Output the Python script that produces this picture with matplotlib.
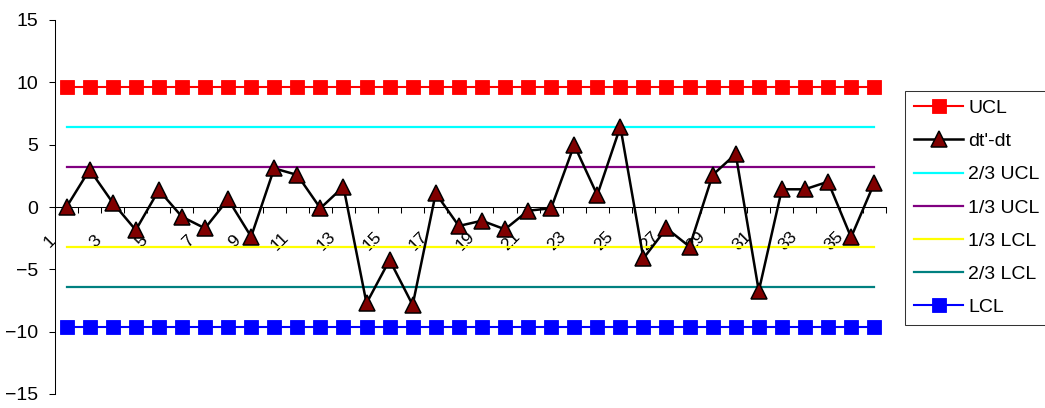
import numpy as np
import matplotlib.pyplot as plt
from matplotlib.transforms import ScaledTranslation

plt.rcParams['font.family'] = ['Liberation Sans', 'DejaVu Sans']

# sample number and dt'-dt values
samples = np.arange(1, 37)
dt_diff = [0.0, 3.0, 0.35, -1.85, 1.36, -0.78, -1.71, 0.62, -2.38, 3.1,
           2.57, -0.1, 1.63, -7.72, -4.25, -7.86, 1.1, -1.52, -1.1, -1.79,
           -0.3, -0.1, 4.97, 0.96, 6.44, -4.12, -1.71, -3.18, 2.57, 4.25,
           -6.74, 1.42, 1.42, 2.03, -2.43, 1.9]

# control limits
ucl = 9.63
ucl_23 = 6.42
ucl_13 = 3.21
lcl_13 = -3.21
lcl_23 = -6.42
lcl = -9.63

tick_labels = [str(s) if s % 2 == 1 else '' for s in samples]

fig = plt.figure(figsize=(10.45, 4.08), dpi=100)
ax = fig.add_axes([55 / 1045, 14 / 408, 830.7 / 1045, 374 / 408])

n = len(samples)
ax.plot(samples, np.full(n, ucl), color='#FF0000', lw=1.5, marker='s',
        ms=10.5, mfc='#FF0000', mec='#FF0000', mew=0.6, label='UCL', zorder=3)
ax.plot(samples, np.full(n, ucl_23), color='#00FFFF', lw=1.6, label='2/3 UCL', zorder=2)
ax.plot(samples, np.full(n, ucl_13), color='#800080', lw=1.6, label='1/3 UCL', zorder=2)
ax.plot(samples, np.full(n, lcl_13), color='#FFFF00', lw=1.6, label='1/3 LCL', zorder=2)
ax.plot(samples, np.full(n, lcl_23), color='#008080', lw=1.6, label='2/3 LCL', zorder=2)
ax.plot(samples, np.full(n, lcl), color='#0000FF', lw=1.5, marker='s',
        ms=10.5, mfc='#0000FF', mec='#0000FF', mew=0.6, label='LCL', zorder=3)
ax.plot(samples, dt_diff, color='black', lw=1.8, marker='^', ms=11,
        mfc='#800000', mec='black', mew=1.1, label="dt'-dt", zorder=4)

ax.set_xlim(0.5, 36.5)
ax.set_ylim(-15, 15)
ax.set_yticks(np.arange(-15, 16, 5))

for side in ['top', 'right']:
    ax.spines[side].set_visible(False)
ax.spines['bottom'].set_position(('data', 0))
ax.spines['bottom'].set_linewidth(0.75)
ax.spines['left'].set_linewidth(0.75)

# tick marks at category borders, labels at category centres
ax.set_xticks(np.arange(0.5, 37, 1))
ax.set_xticklabels([])
ax.set_xticks(samples, minor=True)
ax.set_xticklabels(tick_labels, minor=True)
ax.tick_params(axis='x', which='major', direction='out', length=4.3, width=0.75)
ax.tick_params(axis='x', which='minor', length=0, pad=24.5, labelsize=12.5, labelrotation=45)
ax.tick_params(axis='y', direction='out', length=4, width=0.75, labelsize=14, pad=8)

shift = ScaledTranslation(-0.17, 0, fig.dpi_scale_trans)
for lab in ax.get_xticklabels(minor=True):
    lab.set_rotation_mode('anchor')
    lab.set_ha('center')
    lab.set_va('center')
    lab.set_transform(lab.get_transform() + shift)

handles, labels = ax.get_legend_handles_labels()
order = ['UCL', "dt'-dt", '2/3 UCL', '1/3 UCL', '1/3 LCL', '2/3 LCL', 'LCL']
hmap = dict(zip(labels, handles))
leg = fig.legend([hmap[k] for k in order], order, loc='upper left',
                 bbox_to_anchor=(905 / 1045, (408 - 90.7) / 408),
                 fontsize=14, frameon=True, fancybox=False, shadow=False,
                 numpoints=1, handlelength=2.55, handletextpad=0.25,
                 labelspacing=0.8, borderpad=0.45, borderaxespad=0)
leg.get_frame().set_edgecolor('black')
leg.get_frame().set_linewidth(0.75)

fig.savefig('out.png', dpi=100)
